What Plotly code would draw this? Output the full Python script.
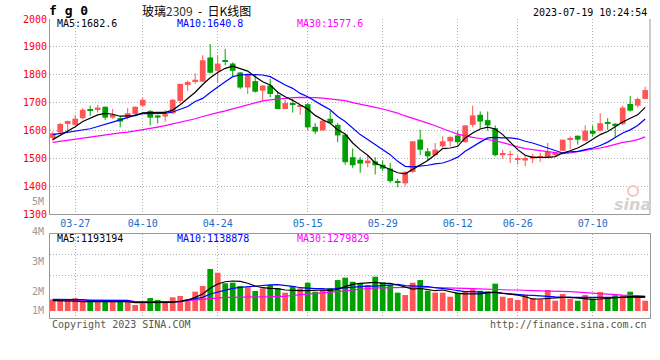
import plotly.graph_objects as go

# ---------------- data ----------------
dates = ["03-22", "03-23", "03-24", "03-27", "03-28", "03-29", "03-30", "03-31",
         "04-03", "04-04", "04-06", "04-07", "04-10", "04-11", "04-12", "04-13", "04-14",
         "04-17", "04-18", "04-19", "04-20", "04-21", "04-24", "04-25", "04-26", "04-27", "04-28",
         "05-04", "05-05", "05-08", "05-09", "05-10", "05-11", "05-12", "05-15", "05-16", "05-17",
         "05-18", "05-19", "05-22", "05-23", "05-24", "05-25", "05-26", "05-29", "05-30", "05-31",
         "06-01", "06-02", "06-05", "06-06", "06-07", "06-08", "06-09", "06-12", "06-13", "06-14",
         "06-15", "06-16", "06-19", "06-20", "06-21", "06-26", "06-27", "06-28", "06-29", "06-30",
         "07-03", "07-04", "07-05", "07-06", "07-07", "07-10", "07-11", "07-12", "07-13", "07-14",
         "07-17", "07-18", "07-19"]

opens = [1573, 1593, 1623, 1620, 1644, 1677, 1675, 1685, 1646, 1644,
         1646, 1659, 1689, 1670, 1654, 1650, 1662, 1706, 1763, 1774,
         1775, 1862, 1814, 1852, 1840, 1808, 1754, 1777, 1743, 1761,
         1727, 1677, 1697, 1686, 1694, 1613, 1600, 1642, 1620, 1585,
         1504, 1495, 1482, 1489, 1477, 1463, 1417, 1410, 1451, 1567,
         1525, 1511, 1543, 1561, 1582, 1558, 1620, 1656, 1637, 1608,
         1511, 1512, 1494, 1492, 1499, 1505, 1504, 1513, 1527, 1568,
         1581, 1563, 1599, 1599, 1627, 1624, 1623, 1695, 1689, 1713]
highs = [1596, 1627, 1635, 1656, 1681, 1689, 1692, 1686, 1677, 1652,
         1681, 1686, 1717, 1673, 1655, 1673, 1713, 1768, 1779, 1805,
         1870, 1910, 1870, 1892, 1844, 1810, 1801, 1801, 1763, 1785,
         1739, 1710, 1713, 1689, 1698, 1626, 1642, 1671, 1626, 1586,
         1535, 1504, 1510, 1504, 1492, 1483, 1427, 1454, 1561, 1602,
         1537, 1555, 1579, 1578, 1599, 1619, 1689, 1668, 1668, 1618,
         1531, 1527, 1511, 1513, 1516, 1519, 1555, 1523, 1567, 1579,
         1582, 1618, 1618, 1662, 1644, 1626, 1689, 1724, 1718, 1757]
lows = [1563, 1589, 1590, 1617, 1640, 1652, 1664, 1638, 1642, 1611,
        1640, 1656, 1684, 1618, 1625, 1632, 1658, 1698, 1742, 1767,
        1775, 1805, 1771, 1834, 1793, 1749, 1731, 1736, 1704, 1719,
        1677, 1677, 1664, 1656, 1602, 1587, 1600, 1623, 1558, 1477,
        1466, 1448, 1468, 1442, 1454, 1412, 1396, 1400, 1448, 1511,
        1492, 1511, 1537, 1543, 1549, 1555, 1611, 1606, 1599, 1507,
        1499, 1483, 1477, 1471, 1483, 1487, 1501, 1507, 1527, 1533,
        1549, 1561, 1579, 1596, 1602, 1576, 1620, 1668, 1682, 1713]
closes = [1590, 1623, 1634, 1642, 1674, 1670, 1682, 1646, 1656, 1632,
          1662, 1685, 1710, 1646, 1646, 1658, 1710, 1767, 1774, 1782,
          1852, 1807, 1840, 1846, 1814, 1754, 1799, 1739, 1761, 1731,
          1677, 1698, 1694, 1689, 1611, 1596, 1635, 1626, 1582, 1486,
          1475, 1481, 1492, 1475, 1463, 1418, 1414, 1451, 1561, 1531,
          1507, 1531, 1561, 1577, 1558, 1618, 1654, 1632, 1618, 1511,
          1519, 1515, 1498, 1501, 1507, 1508, 1523, 1516, 1567, 1571,
          1567, 1599, 1588, 1626, 1624, 1618, 1682, 1671, 1713, 1745]

ma5 = [1567, 1582, 1596, 1613, 1632, 1644, 1656, 1661, 1658, 1651,
       1651, 1653, 1663, 1665, 1665, 1665, 1673, 1692, 1713, 1737,
       1765, 1789, 1808, 1823, 1831, 1823, 1813, 1793, 1775, 1763,
       1737, 1721, 1708, 1692, 1677, 1654, 1638, 1626, 1602, 1587,
       1555, 1531, 1511, 1483, 1471, 1460, 1448, 1444, 1460, 1477,
       1492, 1513, 1535, 1537, 1543, 1573, 1591, 1605, 1612, 1605,
       1585, 1558, 1531, 1511, 1503, 1503, 1503, 1506, 1519, 1527,
       1537, 1551, 1567, 1585, 1596, 1614, 1630, 1644, 1656, 1683]
ma10 = [1585, 1589, 1593, 1596, 1600, 1606, 1614, 1623, 1630, 1638,
        1646, 1655, 1660, 1661, 1661, 1661, 1666, 1676, 1686, 1704,
        1715, 1736, 1757, 1775, 1793, 1799, 1801, 1801, 1799, 1793,
        1777, 1763, 1751, 1733, 1721, 1704, 1689, 1674, 1650, 1632,
        1608, 1585, 1567, 1549, 1531, 1513, 1489, 1471, 1469, 1471,
        1475, 1480, 1483, 1492, 1504, 1525, 1543, 1558, 1573, 1575,
        1573, 1573, 1570, 1561, 1555, 1546, 1537, 1527, 1519, 1523,
        1525, 1531, 1537, 1546, 1558, 1575, 1591, 1602, 1618, 1641]
ma30 = [1557, 1561, 1564, 1569, 1573, 1576, 1581, 1585, 1587, 1591,
        1594, 1598, 1604, 1608, 1612, 1617, 1623, 1629, 1635, 1642,
        1650, 1658, 1664, 1670, 1677, 1683, 1692, 1698, 1706, 1710,
        1713, 1716, 1718, 1719, 1719, 1718, 1716, 1713, 1712, 1707,
        1700, 1695, 1689, 1683, 1677, 1670, 1662, 1652, 1644, 1636,
        1626, 1617, 1606, 1596, 1587, 1580, 1575, 1571, 1568, 1563,
        1556, 1548, 1541, 1535, 1531, 1527, 1523, 1519, 1517, 1519,
        1523, 1527, 1533, 1537, 1543, 1551, 1557, 1561, 1567, 1577]

# volume, in millions of lots
volume = [0.97, 0.97, 0.97, 1.06, 0.92, 0.92, 0.92, 0.92, 0.92, 0.92,
          0.92, 0.50, 0.64, 1.08, 0.92, 0.78, 1.14, 1.25, 0.97, 1.61,
          2.08, 3.50, 3.19, 2.31, 2.36, 2.08, 1.97, 1.67, 1.89, 2.17,
          1.89, 1.53, 2.08, 1.89, 2.36, 1.61, 1.75, 1.92, 2.58, 2.78,
          2.44, 2.31, 2.17, 2.86, 2.39, 2.17, 1.53, 1.33, 2.36, 2.58,
          1.69, 1.53, 1.53, 1.19, 1.53, 1.67, 1.81, 1.69, 1.64, 2.28,
          1.19, 1.08, 0.92, 1.36, 1.08, 0.97, 1.75, 0.86, 1.42, 1.03,
          0.86, 1.33, 1.03, 1.58, 1.08, 1.31, 1.31, 1.61, 1.19, 0.86]
vma5 = [0.86, 0.86, 0.86, 0.83, 0.78, 0.78, 0.78, 0.78, 0.78, 0.78,
        0.78, 0.69, 0.69, 0.69, 0.72, 0.72, 0.72, 0.81, 0.92, 1.14,
        1.42, 1.89, 2.25, 2.44, 2.50, 2.47, 2.31, 2.08, 1.94, 1.89,
        1.86, 1.75, 1.69, 1.69, 1.69, 1.72, 1.75, 1.69, 1.81, 2.03,
        2.22, 2.31, 2.36, 2.39, 2.31, 2.31, 2.17, 2.03, 1.83, 1.89,
        1.81, 1.69, 1.75, 1.61, 1.47, 1.42, 1.42, 1.42, 1.53, 1.58,
        1.47, 1.42, 1.33, 1.19, 1.00, 1.00, 1.06, 1.06, 1.14, 1.14,
        1.08, 1.03, 0.97, 1.00, 1.06, 1.11, 1.14, 1.19, 1.22, 1.19]
vma10 = [0.97, 0.97, 0.97, 0.97, 0.94, 0.89, 0.89, 0.89, 0.89, 0.89,
         0.89, 0.75, 0.75, 0.75, 0.78, 0.78, 0.78, 0.78, 0.92, 1.03,
         1.14, 1.42, 1.58, 1.75, 1.89, 1.97, 2.03, 2.08, 2.14, 2.17,
         2.19, 2.14, 2.06, 1.94, 1.89, 1.86, 1.86, 1.81, 1.89, 1.94,
         2.03, 2.03, 2.08, 2.08, 2.14, 2.22, 2.22, 2.11, 2.08, 2.08,
         2.03, 1.94, 1.89, 1.81, 1.69, 1.61, 1.61, 1.56, 1.53, 1.53,
         1.47, 1.42, 1.39, 1.33, 1.31, 1.25, 1.19, 1.17, 1.14, 1.14,
         1.11, 1.08, 1.08, 1.08, 1.08, 1.08, 1.11, 1.11, 1.14, 1.14]
vma30 = [0.92, 0.92, 0.92, 0.92, 0.86, 0.86, 0.86, 0.86, 0.86, 0.86,
         0.86, 0.78, 0.78, 0.78, 0.78, 0.78, 0.78, 0.78, 0.86, 0.92,
         1.00, 1.06, 1.08, 1.14, 1.14, 1.14, 1.17, 1.17, 1.19, 1.19,
         1.22, 1.22, 1.31, 1.36, 1.42, 1.47, 1.47, 1.53, 1.61, 1.67,
         1.75, 1.81, 1.86, 1.92, 1.92, 1.94, 1.94, 1.94, 1.97, 2.00,
         2.00, 1.94, 1.94, 1.92, 1.89, 1.89, 1.86, 1.83, 1.81, 1.81,
         1.75, 1.75, 1.75, 1.69, 1.69, 1.67, 1.67, 1.64, 1.64, 1.61,
         1.58, 1.53, 1.53, 1.47, 1.42, 1.39, 1.33, 1.31, 1.28, 1.25]

tick_dates = ["03-27", "04-10", "04-24", "05-15", "05-29", "06-12", "06-26", "07-10"]
price_ticks = [1300, 1400, 1500, 1600, 1700, 1800, 1900, 2000]
vol_grid = [3.0, 4.67]

price_legend = ["MA5:1682.6", "MA10:1640.8", "MA30:1577.6"]
vol_legend = ["MA5:1193194", "MA10:1138878", "MA30:1279829"]
vol_labels = ["4M", "3M", "2M", "1M"]

# ---------------- style ----------------
RED = "#ff5555"
GREEN = "#00a000"
C5, C10, C30 = "#000000", "#0000ff", "#ff00ff"
MONO = "DejaVu Sans Mono"
GRIDC = "#b0b0b0"
BORDER = "#999999"

W, H = 660, 360
L, R, T, B = 50, 10, 19, 42
PH = H - T - B


def py(pix):  # pixel row -> paper y
    return (H - B - pix) / PH


def px(pix):  # pixel col -> paper x
    return (pix - L) / (W - L - R)


price_dom = [py(214), 1.0]
vol_dom = [0.0, py(234)]

up = [c >= o for o, c in zip(opens, closes)]
colors = [RED if u else GREEN for u in up]

fig = go.Figure()

# bodies (first, so the category order follows the dates list)
body_base = [min(o, c) for o, c in zip(opens, closes)]
body_h = [max(abs(c - o), 3) for o, c in zip(opens, closes)]
fig.add_trace(go.Bar(x=dates, y=body_h, base=body_base, width=0.76,
                     marker=dict(color=colors, line=dict(width=0)),
                     xaxis="x", yaxis="y", hoverinfo="skip"))

# wicks
for flag, col in ((True, RED), (False, GREEN)):
    xs, ys = [], []
    for d, h, l, u in zip(dates, highs, lows, up):
        if u == flag:
            xs += [d, d, None]
            ys += [l, h, None]
    fig.add_trace(go.Scatter(x=xs, y=ys, mode="lines", line=dict(color=col, width=1),
                             xaxis="x", yaxis="y", hoverinfo="skip"))

for ys, col in ((ma30, C30), (ma10, C10), (ma5, C5)):
    fig.add_trace(go.Scatter(x=dates, y=ys, mode="lines", line=dict(color=col, width=1.2),
                             xaxis="x", yaxis="y", hoverinfo="skip"))

# volume
fig.add_trace(go.Bar(x=dates, y=volume, width=0.76,
                     marker=dict(color=colors, line=dict(width=0)),
                     xaxis="x2", yaxis="y2", hoverinfo="skip"))
for ys, col in ((vma30, C30), (vma10, C10), (vma5, C5)):
    fig.add_trace(go.Scatter(x=dates, y=ys, mode="lines", line=dict(color=col, width=1.2),
                             xaxis="x2", yaxis="y2", hoverinfo="skip"))

grid = dict(showgrid=True, gridcolor=GRIDC, gridwidth=1, griddash="1px,2px")

fig.update_layout(
    width=W, height=H, margin=dict(l=L, r=R, t=T, b=B),
    paper_bgcolor="white", plot_bgcolor="white", showlegend=False, barmode="overlay",
    xaxis=dict(type="category", categoryorder="array", categoryarray=dates,
               range=[-0.36, 79.64], domain=[0, 1], anchor="y",
               tickmode="array", tickvals=tick_dates, ticktext=tick_dates,
               tickfont=dict(family=MONO, size=10, color="#1a6ecb"), ticklabelstandoff=0,
               showline=True, linecolor=BORDER, linewidth=1, ticks="", zeroline=False, **grid),
    yaxis=dict(domain=price_dom, range=[1300, 2000], anchor="x",
               tickmode="array", tickvals=price_ticks,
               tickfont=dict(family=MONO, size=10, color="#ff0000"),
               showline=True, linecolor=BORDER, linewidth=1, ticks="", zeroline=False, **grid),
    xaxis2=dict(type="category", categoryorder="array", categoryarray=dates,
                matches="x", anchor="y2", domain=[0, 1],
                tickmode="array", tickvals=tick_dates, showticklabels=False,
                showline=True, mirror=True, linecolor=BORDER, linewidth=1, ticks="",
                zeroline=False, **grid),
    yaxis2=dict(domain=vol_dom, range=[-0.583, 6.417], anchor="x2",
                tickmode="array", tickvals=vol_grid, showticklabels=False,
                showline=True, mirror=True, linecolor=BORDER, linewidth=1, ticks="",
                zeroline=False, **grid),
)

# right border of price panel
fig.add_shape(type="line", xref="paper", yref="paper", x0=1, x1=1,
              y0=price_dom[0], y1=price_dom[1], line=dict(color=BORDER, width=1))

ann = []


def text(s, xpix, ypix, color="#000", size=10, xanchor="left", family=MONO, **kw):
    ann.append(dict(text=s, xref="paper", yref="paper", x=px(xpix), y=py(ypix),
                    xanchor=xanchor, yanchor="middle", showarrow=False,
                    font=dict(family=family, size=size, color=color), **kw))


# header
text("<b>f g 0</b>", 47, 10, size=13)
text("玻璃<span style='color:#333'>2309</span>\u00a0\u00a0-\u00a0\u00a0日K线图", 140, 10, size=12,
     family="Noto Sans CJK SC, DejaVu Sans Mono")
text("2023-07-19 10:24:54", 649, 12, xanchor="right")

# legends
for s, xp, col in zip(price_legend, (55, 175, 295), (C5, C10, C30)):
    text(s, xp, 24, color=col)
for s, xp, col in zip(vol_legend, (55, 175, 295), (C5, C10, C30)):
    text(s, xp, 238, color=col)

# axis side labels
text("5M", 46, 201, color="#999", xanchor="right")
for s, yp in zip(vol_labels, (231, 261, 291, 310)):
    text(s, 46, yp, color="#999", xanchor="right")

# footer
text("Copyright 2023 SINA.COM", 50, 324, color="#555")
text("http://finance.sina.com.cn", 649, 324, color="#555", xanchor="right")

# watermark
text("<b><i>sina</i></b>", 632, 204, color="#d2d2d2", size=16, xanchor="center",
     family="DejaVu Sans")
fig.add_shape(type="circle", xref="paper", yref="paper",
              x0=px(628), x1=px(638), y0=py(196), y1=py(186),
              line=dict(color="#f2c4c4", width=2), fillcolor="rgba(0,0,0,0)")

fig.update_layout(annotations=ann)

fig.write_html("out.html", config={"displayModeBar": False},
               post_script="document.body.style.margin='0px';document.body.style.overflow='hidden';")
